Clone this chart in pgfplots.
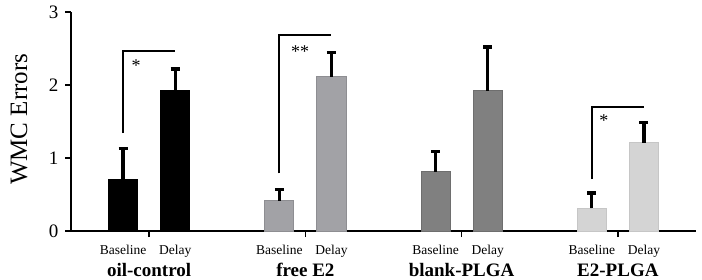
\documentclass[border=0pt]{standalone}
\usepackage{fontspec}
\setmainfont{Liberation Serif}
\usepackage{pgfplots}
\pgfplotsset{compat=1.18}
\definecolor{gA}{HTML}{000000}
\definecolor{gB}{HTML}{A2A2A6}
\definecolor{gBd}{HTML}{8E8E92}
\definecolor{gC}{HTML}{808080}
\definecolor{gCd}{HTML}{6E6E6E}
\definecolor{gD}{HTML}{D4D4D4}
\definecolor{gDd}{HTML}{C6C6C6}
\begin{document}
\begin{tikzpicture}
\begin{axis}[
  scale only axis, width=625bp, height=219bp,
  xmin=-1.5, xmax=10.5, ymin=0, ymax=3,
  axis lines*=left,
  axis line style={line width=2bp, black},
  clip=false,
  ytick={0,1,2,3},
  xtick={0,3,6,9}, xticklabels={,,,},
  tick align=outside, major tick length=6bp,
  tick style={line width=1.5bp, black},
  /pgf/number format/assume math mode=true,
  yticklabel style={font=\fontsize{19bp}{21bp}\selectfont, xshift=-3bp},
  extra x ticks={-0.5,0.5,2.5,3.5,5.5,6.5,8.5,9.5},
  extra x tick labels={Baseline,Delay,Baseline,Delay,Baseline,Delay,Baseline,Delay},
  extra x tick style={tick style={draw=none},
    xticklabel style={font=\fontsize{13.5bp}{16bp}\selectfont, anchor=base, yshift=-17bp}},
  error bars/error bar style={line width=3.2bp, black},
  error bars/error mark options={rotate=90, line width=3.2bp, black, mark size=4.5bp},
]
% bars
\addplot[ybar, bar width=0.56, bar shift=0pt, fill=gA, draw=gA, line width=1bp,
  error bars/.cd, y dir=plus, y explicit]
  coordinates {(-0.5,0.71) +- (0,0.42) (0.5,1.92) +- (0,0.30)};
\addplot[ybar, bar width=0.56, bar shift=0pt, fill=gB, draw=gBd, line width=1bp,
  error bars/.cd, y dir=plus, y explicit]
  coordinates {(2.5,0.415) +- (0,0.15) (3.5,2.11) +- (0,0.34)};
\addplot[ybar, bar width=0.56, bar shift=0pt, fill=gC, draw=gCd, line width=1bp,
  error bars/.cd, y dir=plus, y explicit]
  coordinates {(5.5,0.81) +- (0,0.28) (6.5,1.92) +- (0,0.60)};
\addplot[ybar, bar width=0.56, bar shift=0pt, fill=gD, draw=gDd, line width=1bp,
  error bars/.cd, y dir=plus, y explicit]
  coordinates {(8.5,0.31) +- (0,0.21) (9.5,1.21) +- (0,0.28)};
% significance brackets
\addplot[black, line width=2bp, no marks] coordinates {(-0.5,1.34) (-0.5,2.47) (0.5,2.47)};
\addplot[black, line width=2bp, no marks] coordinates {(2.5,0.79) (2.5,2.69) (3.5,2.69)};
\addplot[black, line width=2bp, no marks] coordinates {(8.5,0.71) (8.5,1.70) (9.5,1.70)};
\node[font=\fontsize{18bp}{20bp}\selectfont, yshift=-3bp] at (axis cs:-0.25,2.30) {*};
\node[font=\fontsize{18bp}{20bp}\selectfont, yshift=-3bp] at (axis cs:2.9,2.50) {**};
\node[font=\fontsize{18bp}{20bp}\selectfont, yshift=-3bp] at (axis cs:8.73,1.55) {*};
% group labels
\node[font=\bfseries\fontsize{19bp}{22bp}\selectfont, anchor=base, yshift=-45bp] at (axis cs:0,0) {oil-control};
\node[font=\bfseries\fontsize{19bp}{22bp}\selectfont, anchor=base, yshift=-45bp] at (axis cs:3,0) {free E2};
\node[font=\bfseries\fontsize{19bp}{22bp}\selectfont, anchor=base, yshift=-45bp] at (axis cs:6,0) {blank-PLGA};
\node[font=\bfseries\fontsize{19bp}{22bp}\selectfont, anchor=base, yshift=-45bp] at (axis cs:9,0) {E2-PLGA};
% y label
\node[font=\fontsize{25bp}{28bp}\selectfont, rotate=90, anchor=center] at ([xshift=-52bp]rel axis cs:0,0.51) {WMC Errors};
\end{axis}
\pgfresetboundingbox
\path (-71bp,-49bp) rectangle (631bp,231bp);
\end{tikzpicture}
\end{document}
